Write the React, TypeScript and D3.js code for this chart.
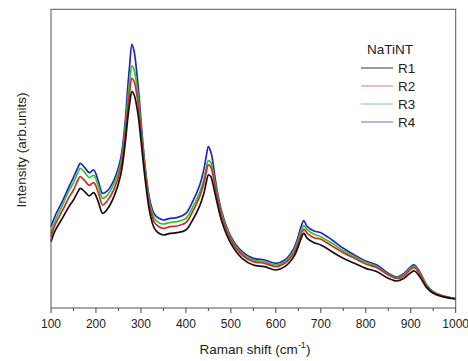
import React from "react";
import * as d3 from "d3";

const shift = [100,110,125,140,150,160,165,175,185,195,205,215,225,240,255,265,270,275,280,285,292,296,300,310,320,330,340,350,365,380,400,415,430,440,445,450,455,458,468,480,500,525,550,575,600,620,640,650,655,662,665,670,685,700,725,750,775,800,825,850,870,885,900,908,920,935,950,970,1000];

const r1 = [199,234,269,304,324,349,359,349,336,346,319,284,296,334,399,494,560,614,649,639,594,555,504,379,284,239,224,219,224,226,234,264,304,344,375,399,395,384,324,259,194,149,129,124,114,124,154,185,204,224,220,209,196,189,169,149,134,119,109,89,81,89,106,111,94,62,44,34,27];
const r2 = [214,252,291,332,354,384,394,382,368,376,347,309,321,356,421,522,590,649,689,679,629,585,529,397,302,257,244,239,244,246,256,289,332,374,405,429,424,412,344,274,204,159,139,134,124,134,164,196,216,236,233,224,211,206,186,166,149,132,121,99,89,97,116,121,102,67,47,36,28];
const r3 = [224,264,307,352,376,407,419,407,391,398,367,329,338,372,434,539,615,679,726,714,654,605,544,407,312,269,256,252,257,259,269,302,344,387,418,442,437,424,354,281,209,164,144,139,129,139,172,205,226,247,243,234,221,214,194,172,154,137,124,101,91,101,120,125,106,69,48,37,28];
const r4 = [244,279,319,364,392,422,434,421,406,414,381,344,351,384,449,559,650,729,791,769,689,633,564,417,322,281,269,264,269,271,284,319,366,416,453,484,470,454,364,287,214,169,149,144,134,144,179,215,239,262,256,244,231,226,204,179,159,141,129,104,93,104,124,129,109,70,49,37,28];

const seriesNames = ["R1", "R2", "R3", "R4"];
const seriesColors = ["#111111", "#d42a2a", "#2ec72e", "#2323c8"];
const legendColors = ["#333344", "#d08080", "#80d080", "#7070b8"];
const xTicks = [100,200,300,400,500,600,700,800,900,1000];
const xMinor = [150,250,350,450,550,650,750,850,950];

export default function App() {
  const W = 468, H = 361;
  const left = 51, right = 455.7, top = 9.3, bottom = 308;
  const x = d3.scaleLinear().domain([100, 1000]).range([left, right]);
  const y = d3.scaleLinear().domain([0, 896]).range([bottom, top]);
  const all = [r1, r2, r3, r4];
  const line = d3.line<number>()
    .x((_, i) => x(shift[i]))
    .y((d) => y(d))
    .curve(d3.curveCatmullRom.alpha(0.5));
  const font = "'Liberation Sans', Arial, sans-serif";
  return (
    <svg width={W} height={H} style={{ position: "absolute", left: 0, top: 0, background: "#fff" }} fontFamily={font}>
      <rect x={0} y={0} width={W} height={H} fill="#fff" />
      {all.slice().reverse().map((s, k) => {
        const idx = 3 - k;
        return <path key={idx} d={line(s) || ""} fill="none" stroke={seriesColors[idx]} strokeWidth={1.7} />;
      })}
      <rect x={left} y={top} width={right - left} height={bottom - top} fill="none" stroke="#555" strokeWidth={1} />
      {xTicks.map((t) => (
        <g key={t}>
          <line x1={x(t)} x2={x(t)} y1={bottom} y2={bottom + 5} stroke="#444" />
          <text x={x(t)} y={328} textAnchor="middle" fontSize={12} fill="#222">{t}</text>
        </g>
      ))}
      {xMinor.map((t) => (
        <line key={t} x1={x(t)} x2={x(t)} y1={bottom} y2={bottom + 3} stroke="#444" />
      ))}
      <text x={255} y={354} textAnchor="middle" fontSize={13.5} fill="#222">
        Raman shift (cm<tspan dy={-6} fontSize={9}>-1</tspan><tspan dy={6}>)</tspan>
      </text>
      <text transform="translate(26,150) rotate(-90)" textAnchor="middle" fontSize={13.5} fill="#222">Intensity (arb.units)</text>
      <text x={390} y={54} textAnchor="middle" fontSize={13.5} fill="#222">NaTiNT</text>
      {seriesNames.map((n, i) => (
        <g key={n}>
          <line x1={361} x2={393} y1={68 + i * 18} y2={68 + i * 18} stroke={legendColors[i]} strokeWidth={1} />
          <text x={398} y={73 + i * 18} fontSize={13.5} fill="#222">{n}</text>
        </g>
      ))}
    </svg>
  );
}
